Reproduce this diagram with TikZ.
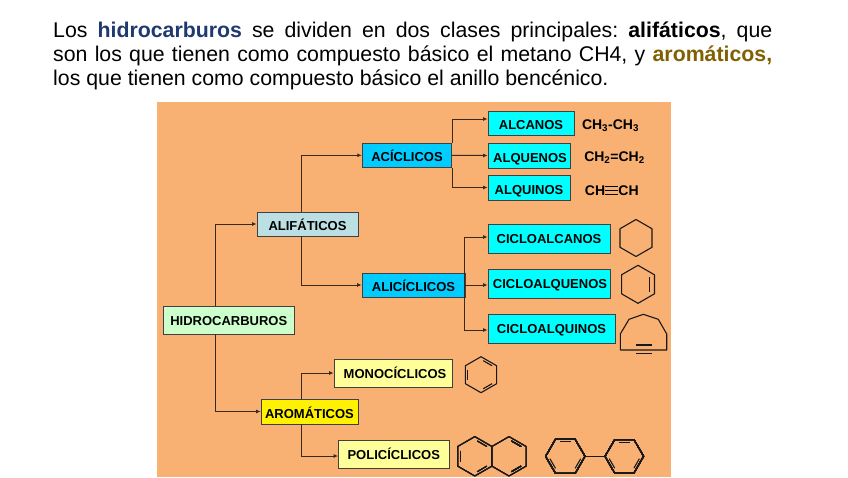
\documentclass[tikz,border=0pt]{standalone}
\usepackage{fontspec}
\setmainfont{Liberation Sans}
\usetikzlibrary{calc, positioning, arrows.meta}
\definecolor{fondo}{HTML}{F9B073}
\definecolor{azulhc}{HTML}{1F3A6E}
\definecolor{ocre}{HTML}{806000}
\definecolor{celeste}{HTML}{00CCFF}
\definecolor{turquesa}{HTML}{00FFFF}
\definecolor{grisazul}{HTML}{BCDFE4}
\definecolor{verdeclaro}{HTML}{CCFFCC}
\definecolor{amarilloclaro}{HTML}{FFFF99}
\definecolor{borde}{HTML}{404040}
\definecolor{linea}{HTML}{3A2A1A}
\newcommand{\hexring}[4]{\draw[ring] ($(#1,#2)+(#4:#3pt)$) \foreach \k in {1,...,5} {-- ($(#1,#2)+(#4+\k*60:#3pt)$)} -- cycle;}
\newcommand{\hexbond}[4]{\draw[ring] ($(#1,#2)+(#4+9:.79*#3pt)$) -- ($(#1,#2)+(#4+51:.79*#3pt)$);}
\begin{document}
\begin{tikzpicture}[x=1pt, y=-1pt,
    caja/.style={draw=borde, line width=.8pt, inner sep=0pt, text height=13pt, text depth=0pt, font=\fontsize{13}{15}\selectfont\bfseries},
    cajaalta/.style={caja, text height=10.5pt},
    formula/.style={inner sep=0pt, font=\fontsize{14}{16}\selectfont\bfseries},
    conn/.style={draw=linea, line width=1pt, -{Latex[length=4.5pt,width=4pt]}},
    ring/.style={draw=black!90, line width=1.1pt, line join=round}]
    \useasboundingbox (0,0) rectangle (848,477);
    \fill[fondo] (157,102) rectangle (671,477);
    %Texto
    \node (texto) at (53,22) [anchor=north west, inner sep=0pt, text width=719pt, align=justify, font=\fontsize{21.3}{24}\selectfont\frenchspacing]
      {Los \textbf{\textcolor{azulhc}{hidrocarburos}} se dividen en dos clases principales: \textbf{alifáticos}, que\linebreak
       son los que tienen como compuesto básico el metano CH4, y \textbf{\textcolor{ocre}{aromáticos,}}\linebreak
       los que tienen como compuesto básico el anillo bencénico.};
    %Cajas
    \node (hidrocarburos) at (228.75,320) [cajaalta, fill=verdeclaro, minimum width=130.5pt, minimum height=28pt] {HIDROCARBUROS};
    \node (alifaticos) at (307.5,224) [caja, fill=grisazul, minimum width=101pt, minimum height=24pt] {ALIFÁTICOS};
    \node (aromaticos) at (309.5,411.5) [caja, fill=yellow, minimum width=97pt, minimum height=25pt] {AROMÁTICOS};
    \node (aciclicos) at (407,155.3) [caja, fill=celeste, minimum width=89.5pt, minimum height=24pt] {ACÍCLICOS};
    \node (aliciclicos) at (413.5,285) [caja, fill=celeste, minimum width=103pt, minimum height=24pt] {ALICÍCLICOS};
    \node (alcanos) at (531,123) [caja, fill=turquesa, minimum width=86pt, minimum height=24pt] {ALCANOS};
    \node (alquenos) at (529,155.5) [caja, fill=turquesa, minimum width=82pt, minimum height=25pt] {\hspace*{2pt}ALQUENOS};
    \node (alquinos) at (529,187.5) [caja, fill=turquesa, minimum width=82pt, minimum height=25pt] {ALQUINOS};
    \node (cicloalcanos) at (549,238.5) [cajaalta, fill=turquesa, minimum width=122pt, minimum height=29pt] {CICLOALCANOS};
    \node (cicloalquenos) at (549,283.5) [cajaalta, fill=turquesa, minimum width=122pt, minimum height=29pt] {\hspace*{2pt}CICLOALQUENOS};
    \node (cicloalquinos) at (551.5,328.5) [cajaalta, fill=turquesa, minimum width=127pt, minimum height=29pt] {CICLOALQUINOS};
    \node (monociclicos) at (393,373) [cajaalta, fill=amarilloclaro, minimum width=118pt, minimum height=28pt] {\hspace*{4pt}MONOCÍCLICOS};
    \node (policiclicos) at (393.75,454) [cajaalta, fill=amarilloclaro, minimum width=110.5pt, minimum height=28pt] {POLICÍCLICOS};
    %Formulas
    \node (etano) at (610.5,125.5) [formula] {CH\textsubscript{3}-CH\textsubscript{3}};
    \node (eteno) at (614.5,158) [formula] {CH\textsubscript{2}=CH\textsubscript{2}};
    \node (etinoa) at (595,190.5) [formula] {CH};
    \node (etinob) at (628.5,190.5) [formula] {CH};
    \foreach \dy in {-4,0,4}
        \draw[line width=.8pt] ([yshift=\dy pt]etinoa.east) -- ([yshift=\dy pt]etinob.west);
    %Conectores
    \coordinate (forkali) at (464,285);
    \draw[conn] ([xshift=-13pt]hidrocarburos.north) |- (alifaticos.west);
    \draw[conn] ([xshift=-13pt]hidrocarburos.south) |- (aromaticos.west);
    \draw[conn] ([xshift=-6pt]alifaticos.north) |- (aciclicos.west);
    \draw[conn] ([xshift=-6pt]alifaticos.south) |- (aliciclicos.west);
    \draw[conn] ([xshift=-8pt]aromaticos.north) |- (monociclicos.west);
    \draw[conn] ([xshift=-8pt]aromaticos.south) |- ([yshift=-2pt]policiclicos.west);
    \draw[conn] (aciclicos.east) -- (alquenos.west);
    \draw[conn] (aciclicos.north east) |- ([yshift=4pt]alcanos.west);
    \draw[conn] (aciclicos.south east) |- (alquinos.west);
    \draw[conn] (aliciclicos.east) -- ([yshift=-1.5pt]cicloalquenos.west);
    \draw[conn] (forkali) |- ([yshift=1.5pt]cicloalcanos.west);
    \draw[conn] (forkali) |- ([yshift=-1.5pt]cicloalquinos.west);
    %Moleculas
    \hexring{636}{238}{18.5}{30}
    \hexring{638}{284.3}{19}{30}
    \draw[ring] (649.3,277) -- (649.3,291.7);
    \draw[ring] (620.3,350) -- (620.3,334) -- (629,319.3) -- (643.3,314.3) -- (658.3,319.3) -- (666.7,334) -- (666.7,350) -- cycle;
    \draw[ring] (636,345) -- (651.7,345);
    \draw[ring] (636,353.3) -- (651.7,353.3);
    \hexring{481}{374.7}{18}{30}
    \foreach \a in {150,30,-90}
        \hexbond{481}{374.7}{18}{\a}
    \hexring{474.8}{456.3}{19.7}{30}
    \hexring{509}{456.3}{19.7}{30}
    \foreach \a in {150,30,-90}
        \hexbond{474.8}{456.3}{19.7}{\a}
    \foreach \a in {30,-90}
        \hexbond{509}{456.3}{19.7}{\a}
    \hexring{565.3}{456.3}{19.7}{0}
    \hexring{624.3}{456.3}{19.3}{0}
    \draw[ring] (585,456.3) -- (605,456.3);
    \foreach \a in {60,180,300} {
        \hexbond{565.3}{456.3}{19.7}{\a}
        \hexbond{624.3}{456.3}{19.3}{\a}
    }
\end{tikzpicture}
\end{document}
